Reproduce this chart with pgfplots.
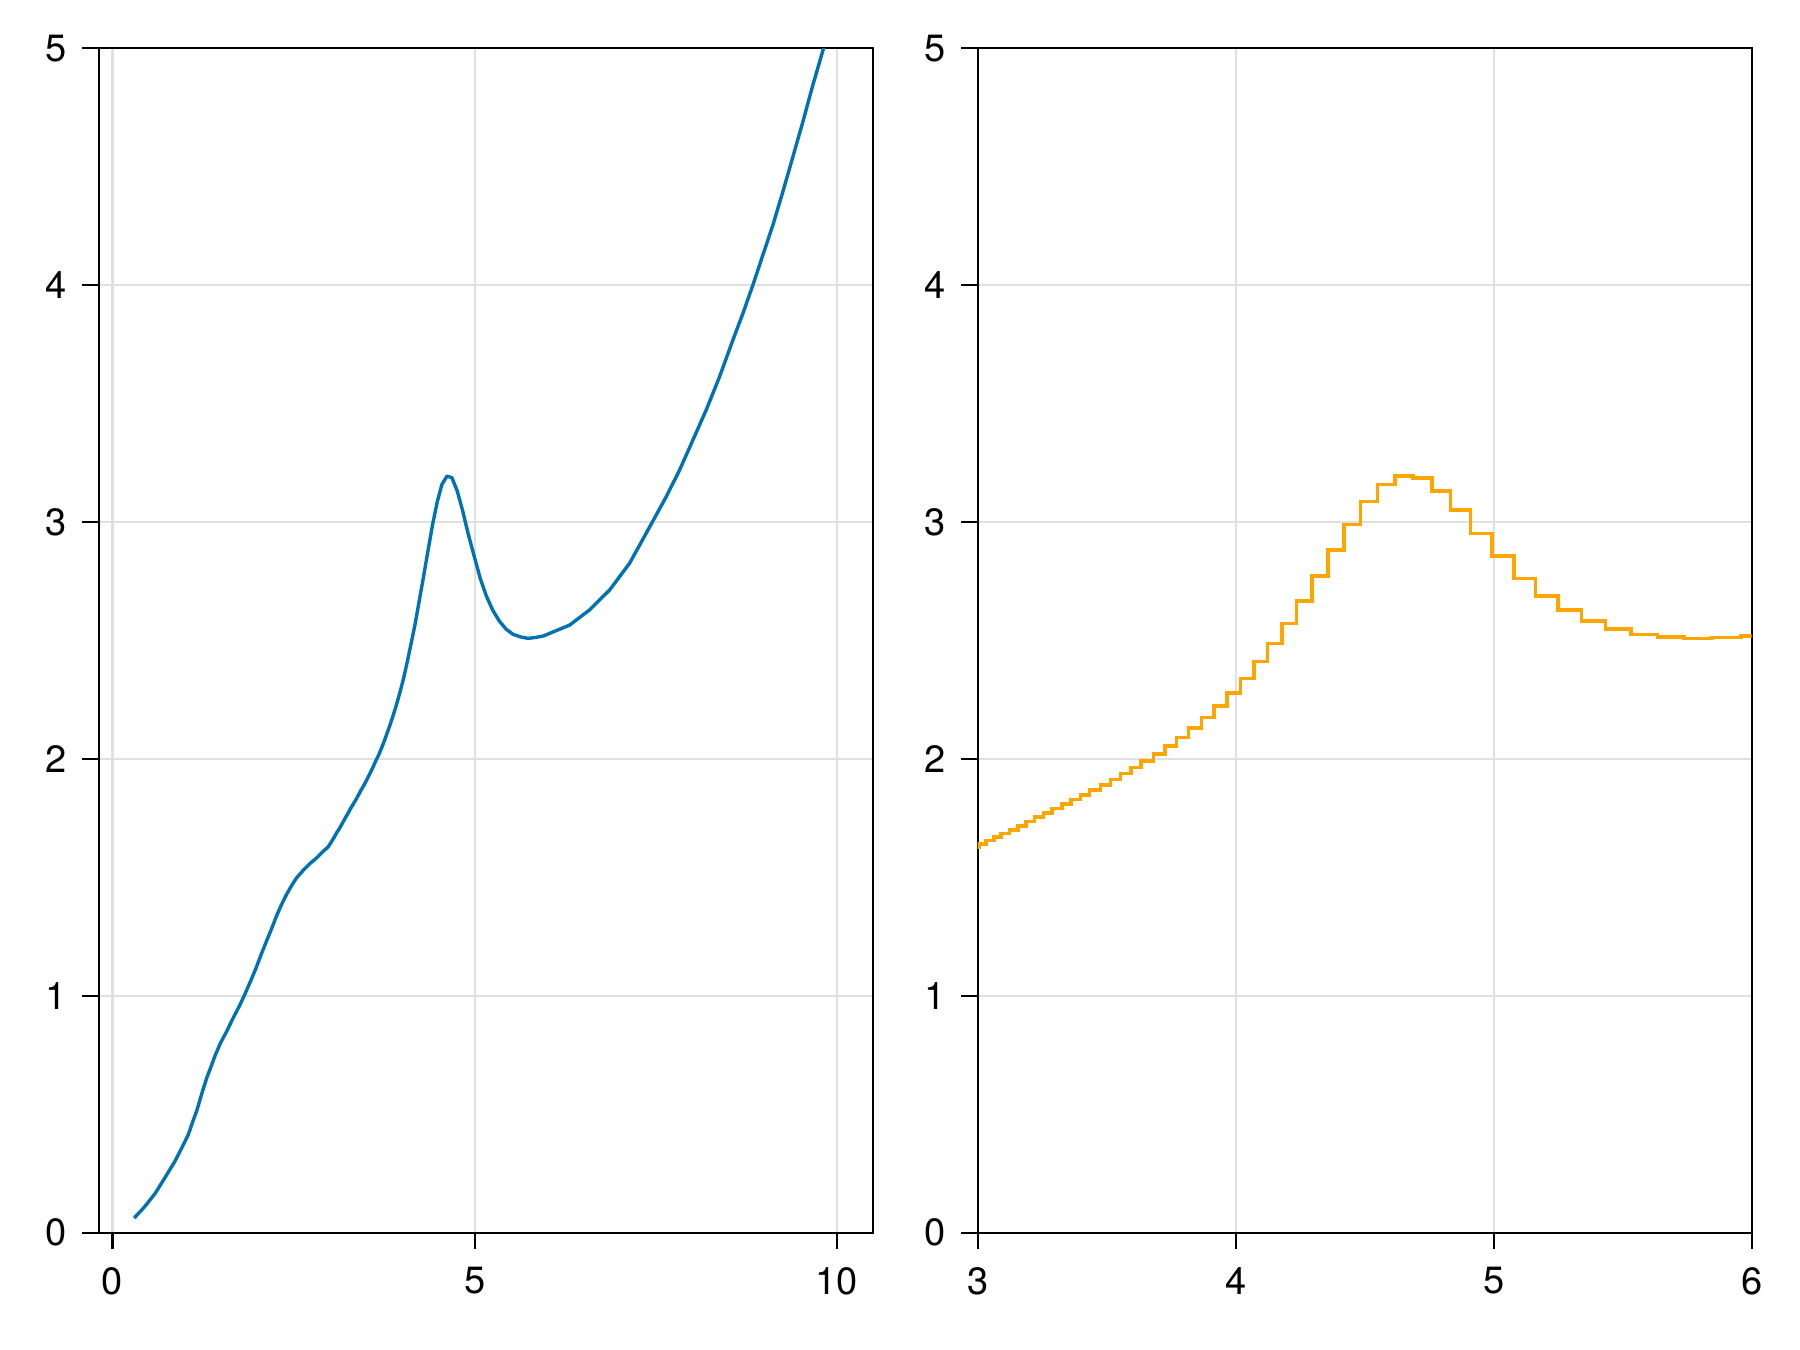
\documentclass[border=0pt]{standalone}
\usepackage{pgfplots}
\pgfplotsset{compat=1.18}
\usepackage{pgfplotstable}
\usepackage{fontspec}
\setmainfont{TeX Gyre Heros}

\definecolor{mblue}{RGB}{0,114,178}
\definecolor{morange}{RGB}{255,165,0}

% blue curve, left panel
\pgfplotstableread{
x y
0.300 0.062
0.440 0.108
0.590 0.166
0.730 0.235
0.860 0.300
0.960 0.360
1.047 0.414
1.110 0.470
1.164 0.515
1.235 0.589
1.300 0.652
1.345 0.688
1.420 0.750
1.490 0.800
1.577 0.850
1.664 0.905
1.757 0.960
1.830 1.008
1.918 1.070
1.986 1.120
2.056 1.177
2.124 1.229
2.194 1.281
2.262 1.335
2.332 1.384
2.400 1.426
2.470 1.464
2.537 1.496
2.631 1.529
2.721 1.557
2.815 1.581
2.905 1.609
2.976 1.628
3.004 1.641
3.0325 1.655
3.0622 1.670
3.0907 1.686
3.123 1.701
3.1553 1.718
3.1877 1.736
3.220 1.754
3.255 1.772
3.2873 1.791
3.326 1.810
3.3623 1.829
3.3985 1.849
3.4334 1.869
3.476 1.891
3.515 1.914
3.5537 1.938
3.595 1.964
3.634 1.991
3.682 2.021
3.727 2.055
3.771 2.091
3.8176 2.131
3.8668 2.175
3.916 2.224
3.9664 2.278
4.019 2.340
4.0707 2.411
4.1237 2.488
4.180 2.572
4.2357 2.668
4.296 2.772
4.358 2.882
4.420 2.990
4.4844 3.086
4.549 3.159
4.6185 3.194
4.6865 3.187
4.760 3.131
4.832 3.051
4.9096 2.952
4.993 2.857
5.0777 2.762
5.162 2.688
5.250 2.628
5.341 2.582
5.434 2.548
5.531 2.526
5.635 2.515
5.738 2.509
5.846 2.513
5.959 2.520
6.035 2.530
6.311 2.565
6.587 2.629
6.863 2.713
7.139 2.826
7.300 2.915
7.461 3.004
7.645 3.107
7.829 3.219
8.013 3.346
8.197 3.473
8.381 3.613
8.565 3.768
8.703 3.880
8.841 4.000
8.979 4.127
9.117 4.253
9.255 4.394
9.393 4.541
9.531 4.689
9.669 4.844
9.816 4.999
10.011 5.210
}\curvedata

% orange stairs, right panel
\pgfplotstableread{
x y
2.976 1.628
3.004 1.641
3.0325 1.655
3.0622 1.670
3.0907 1.686
3.123 1.701
3.1553 1.718
3.1877 1.736
3.220 1.754
3.255 1.772
3.2873 1.791
3.326 1.810
3.3623 1.829
3.3985 1.849
3.4334 1.869
3.476 1.891
3.515 1.914
3.5537 1.938
3.595 1.964
3.634 1.991
3.682 2.021
3.727 2.055
3.771 2.091
3.8176 2.131
3.8668 2.175
3.916 2.224
3.9664 2.278
4.019 2.340
4.0707 2.411
4.1237 2.488
4.180 2.572
4.2357 2.668
4.296 2.772
4.358 2.882
4.420 2.990
4.4844 3.086
4.549 3.159
4.6185 3.194
4.6865 3.187
4.760 3.131
4.832 3.051
4.9096 2.952
4.993 2.857
5.0777 2.762
5.162 2.688
5.250 2.628
5.341 2.582
5.434 2.548
5.531 2.526
5.635 2.515
5.738 2.509
5.846 2.513
5.959 2.520
6.075 2.530
}\stairdata

\pgfplotsset{
  panel/.style={
    scale only axis,
    anchor=south west,
    height=296.1pt,
    ymin=0, ymax=5,
    ytick={0,1,2,3,4,5},
    axis line style={black, line width=0.56pt},
    tick align=outside,
    tick pos=left,
    major tick length=4.1pt,
    tick style={black, line width=0.56pt},
    grid=major,
    major grid style={black!12, line width=0.56pt},
    /pgf/number format/assume math mode=true,
    tick label style={font=\fontsize{9.5}{10}\selectfont, inner sep=0pt},
    yticklabel style={anchor=east, xshift=-3.6pt},
    xticklabel style={anchor=north, yshift=-4.4pt},
    clip=true,
  },
}

\begin{document}
\begin{tikzpicture}
\useasboundingbox (0,0) rectangle (450pt,337.5pt);

\begin{axis}[panel,
    at={(24.675pt,29.325pt)},
    width=193.575pt,
    xmin=-0.19, xmax=10.5,
    xtick={0,5,10},
  ]
  \addplot[mblue, line width=0.85pt, line join=round] table[x=x, y=y] {\curvedata};
\end{axis}

\begin{axis}[panel,
    at={(244.425pt,29.325pt)},
    width=193.5pt,
    xmin=3, xmax=6,
    xtick={3,4,5,6},
  ]
  \addplot[morange, line width=0.9pt, const plot mark left] table[x=x, y=y] {\stairdata};
\end{axis}
\end{tikzpicture}
\end{document}
